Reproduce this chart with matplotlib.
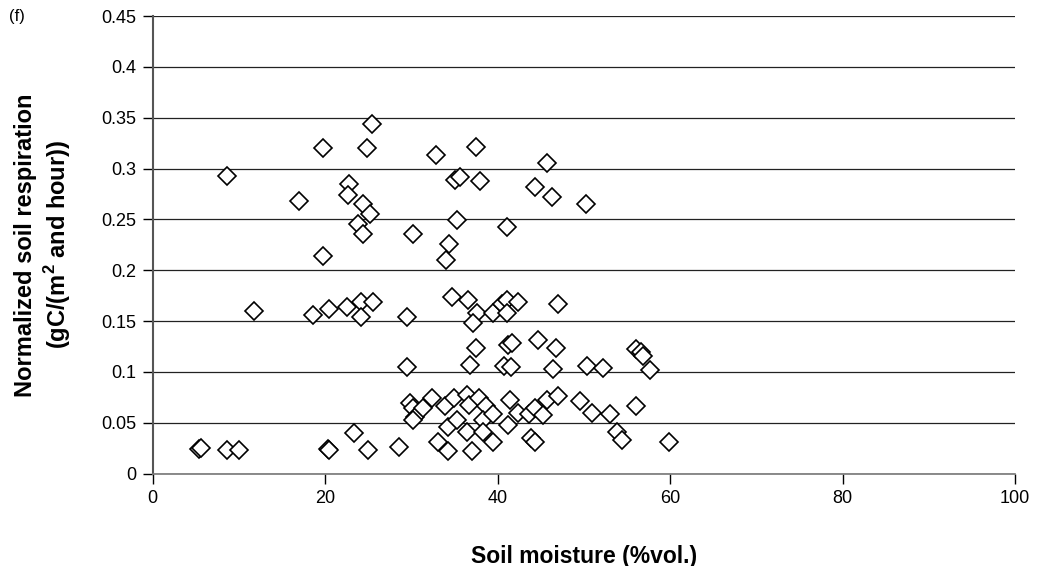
import matplotlib
matplotlib.use('Agg')
import matplotlib.pyplot as plt

plt.rcParams['font.family'] = ['Liberation Sans', 'DejaVu Sans']

# Soil moisture (%vol.) and normalized soil respiration
moisture = [
	25.4, 19.8, 24.9, 37.5, 32.9, 45.7, 8.65, 35.1, 35.6, 38.0,
	44.3, 22.8, 22.7, 46.3, 17.0, 24.4, 50.3, 25.2, 35.3, 23.8,
	41.1, 24.4, 30.2, 34.4, 19.8, 34.0,
	11.8, 18.6, 20.4, 22.5, 24.2, 25.6, 24.2, 29.5, 34.7, 36.6,
	37.6, 37.2, 39.5, 40.5, 41.1, 41.1, 42.4, 47.0,
	37.5, 41.2, 41.7, 44.7, 46.8, 56.1, 56.6, 56.9,
	29.5, 36.8, 40.7, 41.5, 46.4, 50.4, 52.2, 57.7,
	29.8, 30.2, 30.4, 30.2, 31.4, 32.4, 33.9, 34.9, 34.3, 35.3,
	36.4, 36.7, 37.8, 38.7, 38.3, 39.5, 36.4, 38.3, 39.5, 41.4,
	41.2, 42.4, 43.6, 44.3, 45.7, 47.0, 45.3, 49.6, 50.9, 53.0,
	56.1, 43.9, 44.3, 53.8, 54.4, 59.9,
	5.4, 5.6, 8.65, 10.0, 20.3, 20.5, 23.3, 25.0, 28.6, 33.1,
	34.3, 37.0,
]
respiration = [
	0.344, 0.320, 0.320, 0.321, 0.313, 0.305, 0.293, 0.289, 0.292, 0.288,
	0.282, 0.285, 0.274, 0.272, 0.268, 0.265, 0.265, 0.255, 0.249, 0.245,
	0.242, 0.236, 0.236, 0.226, 0.214, 0.210,
	0.160, 0.156, 0.162, 0.164, 0.169, 0.169, 0.154, 0.154, 0.174, 0.171,
	0.158, 0.148, 0.158, 0.167, 0.171, 0.158, 0.169, 0.167,
	0.123, 0.126, 0.128, 0.131, 0.123, 0.122, 0.120, 0.116,
	0.105, 0.107, 0.106, 0.105, 0.103, 0.106, 0.104, 0.102,
	0.069, 0.064, 0.056, 0.053, 0.064, 0.074, 0.066, 0.074, 0.046, 0.053,
	0.077, 0.067, 0.074, 0.066, 0.053, 0.059, 0.041, 0.041, 0.031, 0.072,
	0.048, 0.060, 0.059, 0.064, 0.072, 0.076, 0.058, 0.071, 0.060, 0.059,
	0.066, 0.035, 0.031, 0.041, 0.033, 0.031,
	0.024, 0.025, 0.023, 0.023, 0.024, 0.023, 0.040, 0.023, 0.026, 0.031,
	0.022, 0.022,
]
x_ticks = [0, 20, 40, 60, 80, 100]
y_ticks = [0, 0.05, 0.1, 0.15, 0.2, 0.25, 0.3, 0.35, 0.4, 0.45]
y_tick_labels = ['0', '0.05', '0.1', '0.15', '0.2', '0.25', '0.3', '0.35', '0.4', '0.45']

fig = plt.figure(figsize=(10.64, 5.66), dpi=100)
ax = fig.add_axes([0.1435, 0.1634, 0.8105, 0.8083])

ax.plot(moisture, respiration, linestyle='none', marker='D', markersize=9.5,
	markerfacecolor='white', markeredgecolor='black', markeredgewidth=1.2, zorder=3)

ax.set_xlim(0, 100)
ax.set_ylim(0, 0.45)
ax.set_xticks(x_ticks)
ax.set_yticks(y_ticks)
ax.set_yticklabels(y_tick_labels)

# horizontal grid only, no frame on top/right
ax.yaxis.grid(True, color='#222222', linewidth=0.9)
ax.set_axisbelow(True)
for side in ['top', 'right']:
	ax.spines[side].set_visible(False)
ax.spines['left'].set_color('#555555')
ax.spines['left'].set_linewidth(1.5)
ax.spines['bottom'].set_color('#777777')
ax.spines['bottom'].set_linewidth(1.2)
ax.tick_params(axis='both', direction='out', length=7, width=1, labelsize=13, pad=5, colors='black')

ax.set_xlabel('Soil moisture (%vol.)', fontsize=16.5, fontweight='bold', labelpad=27)
ax.set_ylabel('Normalized soil respiration\n(gC/(m$^\\mathregular{2}$ and hour))', fontsize=17, fontweight='bold', labelpad=20)

fig.text(0.008, 0.963, '(f)', fontsize=12)

fig.savefig('out.png', dpi=100)
